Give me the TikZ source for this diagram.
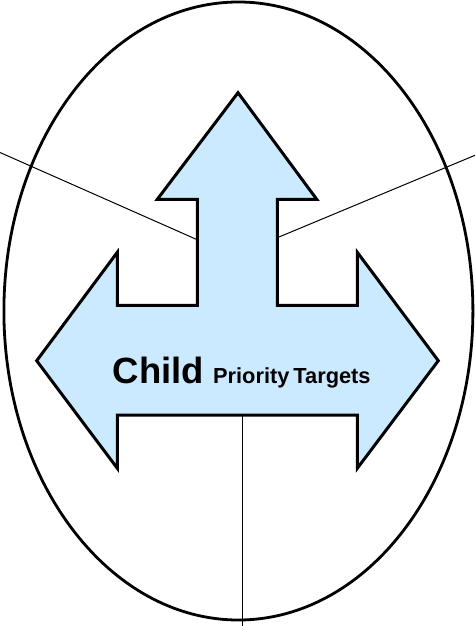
\documentclass[tikz,border=0pt]{standalone}
\usepackage{fontspec}
\setmainfont{Liberation Sans}
\usetikzlibrary{shapes.geometric}
\definecolor{arrowfill}{RGB}{204,234,255}
\tikzset{
  outline/.style={draw=black,line width=3pt,line join=miter},
  ovalbox/.style={ellipse,draw=black,line width=2.8pt,minimum width=469pt,minimum height=618pt,inner sep=0pt},
  leader/.style={draw=black,line width=1pt},
}
\begin{document}
\begin{tikzpicture}[x=1pt,y=-1pt]
\useasboundingbox (0,0) rectangle (475,626);
\node[ovalbox] (oval) at (238.4,311) {};
% three-way arrow
\path[outline,fill=arrowfill]
  (238,92.7) -- (316.7,199.3) -- (277.3,199.3) -- (277.3,305.3) -- (357.3,305.3)
  -- (357.3,252.3) -- (438.3,360.7) -- (357.3,468.3) -- (357.3,415) -- (117.3,415)
  -- (117.3,468.3) -- (36.7,360.7) -- (117.3,252.3) -- (117.3,305.3) -- (197.3,305.3)
  -- (197.3,199.3) -- (157.3,199.3) -- cycle;
\coordinate (shaftL) at (196.3,239.3);
\coordinate (shaftR) at (278.3,237.3);
\coordinate (bodyB) at (242,416);
\coordinate (freeL) at (0,152.5);
\coordinate (freeR) at (475,155.3);
\coordinate (freeB) at (242,626);
\draw[leader] (freeL) -- (shaftL);
\draw[leader] (freeR) -- (shaftR);
\draw[leader] (bodyB) -- (freeB);
\node[anchor=base west,inner sep=0pt] (label) at (112.7,383.3)
  {\fontsize{36.5}{40}\selectfont\bfseries Child\hspace{9pt}{\fontsize{21.8}{24}\selectfont Priority\hspace{4pt}Targets}};
\end{tikzpicture}
\end{document}
